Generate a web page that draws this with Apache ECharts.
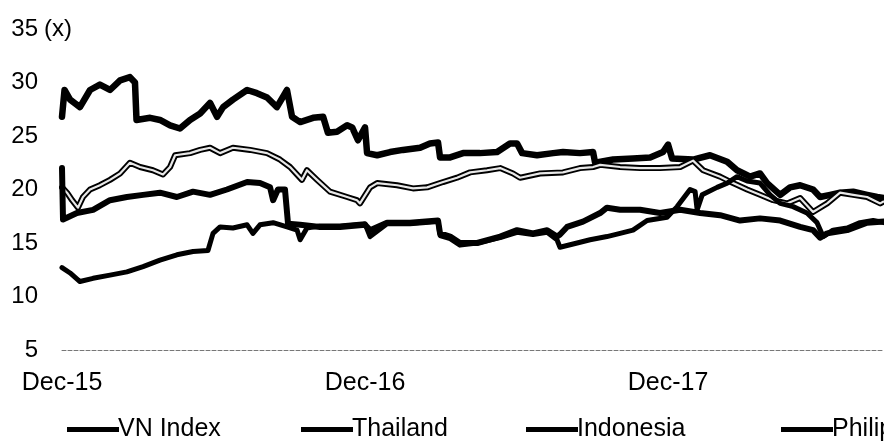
<!DOCTYPE html>
<html><head><meta charset="utf-8">
<script src="https://cdn.jsdelivr.net/npm/echarts@6/dist/echarts.min.js"></script>
<style>html,body{margin:0;padding:0;background:#fff}#c{width:884px;height:442px}</style>
</head><body><div id="c"></div>
<script>
// x values are months since Dec-15
const xTickLabels = ['Dec-15', 'Dec-16', 'Dec-17'];
const seriesNames = ['VN Index', 'Thailand', 'Indonesia', 'Philippines'];

const vnIndex = [[0,12.7],[0.32,12.2],[0.71,11.4],[1.23,11.7],[1.9,12.0],[2.57,12.3],[3.21,12.8],[3.88,13.4],[4.55,13.9],[5.19,14.2],[5.78,14.3],[5.98,15.9],[6.26,16.5],[6.77,16.4],[7.33,16.7],[7.56,15.9],[7.84,16.7],[8.36,16.9],[8.91,16.5],[9.31,16.2],[9.43,15.3],[9.7,16.4],[10.22,16.6],[11.01,16.6],[12.0,16.8],[12.2,15.6],[12.87,16.8],[13.78,16.8],[14.89,17.0],[14.97,15.7],[15.37,15.4],[15.76,14.8],[16.44,15.0],[17.35,15.5],[18.02,16.0],[18.65,15.8],[19.21,16.0],[19.6,15.3],[19.72,14.6],[20.4,15.0],[20.91,15.3],[21.58,15.6],[22.1,15.9],[22.61,16.2],[23.17,17.1],[23.96,17.4],[24.36,18.4],[24.87,20.0],[25.07,19.8],[25.15,18.1],[25.35,19.5],[25.94,20.2],[26.34,20.6],[26.73,21.2],[27.13,20.8],[27.64,20.6],[28.04,19.5],[28.44,18.7],[28.95,18.4],[29.5,17.8],[29.9,16.9],[30.14,15.6],[30.53,16.2],[31.09,16.4],[31.6,16.9],[32.12,17.1],[32.55,16.9]];

const thailand = [[0,22.0],[0.04,17.2],[0.59,17.8],[1.23,18.1],[1.9,19.0],[2.57,19.3],[3.21,19.5],[3.88,19.7],[4.55,19.3],[5.19,19.8],[5.86,19.5],[6.53,20.0],[7.33,20.7],[7.84,20.6],[8.24,20.2],[8.36,19.0],[8.55,20.0],[8.83,20.0],[8.95,16.8],[9.43,16.7],[10.22,16.5],[11.01,16.5],[12.0,16.7],[12.2,16.2],[12.87,16.9],[13.78,16.9],[14.89,17.1],[14.97,15.9],[15.37,15.6],[15.76,15.0],[16.44,15.0],[17.35,15.6],[18.02,16.2],[18.65,15.9],[19.21,16.2],[19.6,15.6],[19.72,15.8],[20.0,16.5],[20.63,17.0],[21.31,17.8],[21.58,18.3],[22.1,18.1],[22.89,18.1],[23.68,17.8],[24.48,18.1],[25.27,17.8],[26.06,17.6],[26.85,17.1],[27.64,17.3],[28.44,17.1],[29.23,16.5],[29.74,16.2],[30.02,15.5],[30.3,15.9],[31.09,16.2],[31.88,16.9],[32.55,17.0]];

const indonesia = [[0,20.2],[0.2,19.7],[0.4,19.0],[0.63,18.3],[0.83,19.3],[1.11,20.0],[1.5,20.4],[1.9,20.9],[2.3,21.5],[2.69,22.5],[3.09,22.1],[3.6,21.8],[4.0,21.4],[4.28,22.1],[4.48,23.2],[5.07,23.4],[5.47,23.7],[5.86,23.9],[6.26,23.4],[6.77,23.9],[7.45,23.7],[8.12,23.4],[8.63,22.8],[9.03,22.1],[9.5,20.9],[9.7,21.8],[10.1,20.9],[10.61,19.8],[11.29,19.3],[11.68,19.0],[11.8,18.7],[12.2,20.2],[12.48,20.6],[13.27,20.4],[13.9,20.1],[14.46,20.2],[15.09,20.7],[15.64,21.1],[16.16,21.6],[16.83,21.8],[17.35,22.0],[17.86,21.5],[18.14,21.1],[18.93,21.5],[19.84,21.6],[20.51,22.0],[21.03,22.1],[21.31,22.3],[22.1,22.1],[22.89,22.0],[23.68,22.0],[24.48,22.1],[24.99,22.7],[25.39,21.8],[26.06,21.2],[26.57,20.6],[27.13,20.0],[27.64,19.5],[28.16,19.0],[28.71,18.7],[29.23,19.2],[29.74,17.9],[30.3,18.7],[30.81,19.7],[31.33,19.5],[31.88,19.3],[32.4,18.7],[32.55,18.9]];

const philippines = [[0,26.8],[0.1,29.3],[0.32,28.4],[0.71,27.7],[1.11,29.3],[1.5,29.8],[1.9,29.3],[2.3,30.2],[2.69,30.5],[2.89,30.0],[2.95,26.5],[3.49,26.7],[3.88,26.5],[4.28,26.0],[4.67,25.7],[5.07,26.5],[5.47,27.1],[5.86,28.1],[6.14,26.8],[6.38,27.7],[6.77,28.4],[7.33,29.3],[7.72,29.0],[8.12,28.6],[8.51,27.7],[8.91,29.3],[9.11,26.8],[9.43,26.3],[9.94,26.7],[10.34,26.8],[10.53,25.3],[10.89,25.4],[11.29,26.0],[11.49,25.8],[11.72,24.6],[12.0,25.8],[12.08,23.4],[12.48,23.2],[12.99,23.5],[13.5,23.7],[14.18,23.9],[14.57,24.3],[14.89,24.4],[14.97,23.0],[15.37,23.0],[15.88,23.4],[16.55,23.4],[17.23,23.5],[17.74,24.3],[18.02,24.3],[18.22,23.4],[18.81,23.2],[19.45,23.4],[19.84,23.5],[20.51,23.4],[21.03,23.5],[21.11,22.5],[21.82,22.8],[22.61,22.9],[23.29,23.0],[23.8,23.5],[24.0,24.2],[24.16,22.9],[24.99,22.8],[25.66,23.2],[26.34,22.6],[26.73,21.8],[27.25,21.2],[27.64,21.5],[27.92,20.6],[28.44,19.5],[28.83,20.2],[29.23,20.4],[29.74,20.0],[30.02,19.3],[30.42,19.5],[30.81,19.7],[31.33,19.8],[31.88,19.5],[32.28,19.3],[32.55,19.2]];

const FONT = "'Liberation Sans', Arial, sans-serif";
const chart = echarts.init(document.getElementById('c'), null, {renderer: 'canvas'});

function line(name, data, color, width, z) {
  return {
    name: name, type: 'line', data: data, showSymbol: false, symbol: 'none',
    smooth: false, z: z, animation: false,
    lineStyle: {color: color, width: width, join: 'round', cap: 'round'},
    itemStyle: {color: color}
  };
}

const legendLefts = [62, 296, 521, 776];
const option = {
  animation: false,
  backgroundColor: '#ffffff',
  grid: {left: 62, right: 0, top: 29, bottom: 92, containLabel: false},
  legend: seriesNames.map((n, i) => ({
    data: [n], left: legendLefts[i], top: 412, orient: 'horizontal',
    icon: 'rect', itemWidth: 52, itemHeight: 5,
    textStyle: {fontFamily: FONT, fontSize: 25, color: '#000', padding: [0,0,0,-6]},
    selectedMode: false
  })),
  xAxis: {
    type: 'value', min: 0, max: 32.55, interval: 12,
    axisLine: {show: true, lineStyle: {color: '#777', width: 1, type: [4, 2]}},
    axisTick: {show: false},
    splitLine: {show: false},
    axisLabel: {
      fontFamily: FONT, fontSize: 25, color: '#000', margin: 21,
      showMaxLabel: false,
      formatter: v => (v % 12 === 0 && xTickLabels[v / 12]) ? xTickLabels[v / 12] : ''
    }
  },
  yAxis: {
    type: 'value', min: 5, max: 35, interval: 5,
    axisLine: {show: false}, axisTick: {show: false}, splitLine: {show: false},
    axisLabel: {fontFamily: FONT, fontSize: 24, color: '#000', margin: 24}
  },
  graphic: [{
    type: 'text', left: 44, top: 17,
    style: {text: '(x)', font: "24px 'Liberation Sans', Arial, sans-serif", fill: '#000'}
  }],
  series: [
    line('Philippines', philippines, '#000', 6.5, 3),
    line('Indonesia', indonesia, '#000', 6, 4),
    {
      name: 'Indonesia-inner', type: 'line', data: indonesia, showSymbol: false, symbol: 'none',
      z: 5, animation: false, silent: true,
      lineStyle: {color: '#e8e8e8', width: 2.2, join: 'round'}
    },
    line('Thailand', thailand, '#000', 6, 6),
    line('VN Index', vnIndex, '#000', 5, 7)
  ]
};
chart.setOption(option);
</script>
</body></html>
